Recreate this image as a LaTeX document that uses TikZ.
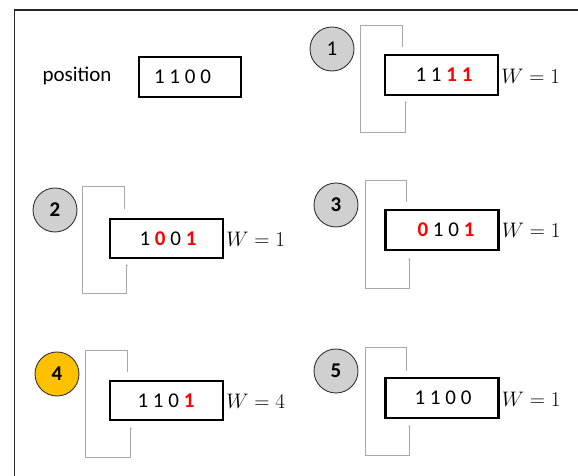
\RequirePackage{fix-cm}
\documentclass[tikz,border=0pt]{standalone}
\usepackage{fontspec}
\setmainfont{Carlito}
\usetikzlibrary{arrows.meta}
\definecolor{loopgray}{HTML}{A8A8A8}
\definecolor{stepgray}{HTML}{D0D0D0}
\definecolor{stepgold}{HTML}{FFC000}
\newcommand\hl[1]{\textbf{\color{red}#1}}
\begin{document}
\begin{tikzpicture}[x=1pt,y=1pt,
  font=\fontsize{21}{25}\selectfont,
  regbox/.style={draw=black,line width=2.2pt,minimum width=113pt,minimum height=40pt,inner sep=0pt},
  stepnum/.style={circle,draw=black!80,line width=0.9pt,fill=stepgray,minimum size=44pt,inner sep=0pt},
  loopline/.style={draw=loopgray,line width=0.9pt,-{Stealth[length=2.2pt,width=2.2pt]}},
  wlabel/.style={anchor=base west,inner sep=0pt},
  frameline/.style={draw=black!85,line width=1.4pt}]
\useasboundingbox (0,0) rectangle (578,476);

% outer frame (left and top edges)
\draw[frameline] (14.5,0) |- (578,466);

% initial register
\node (pos) at (77,400) {position};
\node[regbox,minimum width=102pt] (b0) at (190,399) {};
\node (t0) at (182.5,399) {1 1 0 0};

% step 1
\node[stepnum] (c1) at (332,427) {1};
\node[regbox] (b1) at (441.5,401) {};
\node (t1) at (444,401) {1 1 \hl{1} \hl{1}};
\node[wlabel] (w1) at ([xshift=2pt,yshift=-2pt]b1.east |- t1.base) {$W = 1$};
\draw[loopline] ([shift={(19,7)}]b1.north west) |- ++(-42,21) -- ++(0,-107)
  -| ([shift={(22,-5)}]b1.south west);

% step 2
\node[stepnum] (c2) at (55,266) {\textbf{2}};
\node[regbox,minimum height=39pt] (b2) at (166.5,237.5) {};
\node (t2) at (168,237.5) {1 \hl{0} 0 \hl{1}};
\node[wlabel] (w2) at ([xshift=2pt,yshift=-1pt]b2.east |- t2.base) {$W = 1$};
\draw[loopline] ([shift={(16,9)}]b2.north west) |- ++(-42,22) -- ++(0,-107)
  -| ([shift={(18,-5)}]b2.south west);

% step 3
\node[stepnum] (c3) at (336,271) {\textbf{3}};
\node[regbox] (b3) at (442,246) {};
\node (t3) at (446,246) {\hl{0} 1 0 \hl{1}};
\node[wlabel] (w3) at ([xshift=2pt,yshift=-1pt]b3.east |- t3.base) {$W = 1$};
\draw[loopline] ([shift={(22,7)}]b3.north west) |- ++(-41,21) -- ++(0,-108)
  -| ([shift={(25,-7)}]b3.south west);

% step 4 (selected)
\node[stepnum,fill=stepgold] (c4) at (57,102) {\textbf{4}};
\node[regbox,minimum height=39pt] (b4) at (166.5,75.5) {};
\node (t4) at (166,75.5) {1 1 0 \hl{1}};
\node[wlabel] (w4) at ([xshift=2pt,yshift=-1pt]b4.east |- t4.base) {$W = 4$};
\draw[loopline] ([shift={(19,8)}]b4.north west) |- ++(-42,21) -- ++(0,-107)
  -| ([shift={(22,-6)}]b4.south west);

% step 5
\node[stepnum] (c5) at (336,105) {\textbf{5}};
\node[regbox] (b5) at (442,78) {};
\node (t5) at (443,78) {1 1 0 0};
\node[wlabel] (w5) at ([xshift=2pt,yshift=-2pt]b5.east |- t5.base) {$W = 1$};
\draw[loopline] ([shift={(22,6)}]b5.north west) |- ++(-41,23) -- ++(0,-108)
  -| ([shift={(25,-6)}]b5.south west);
\end{tikzpicture}
\end{document}
